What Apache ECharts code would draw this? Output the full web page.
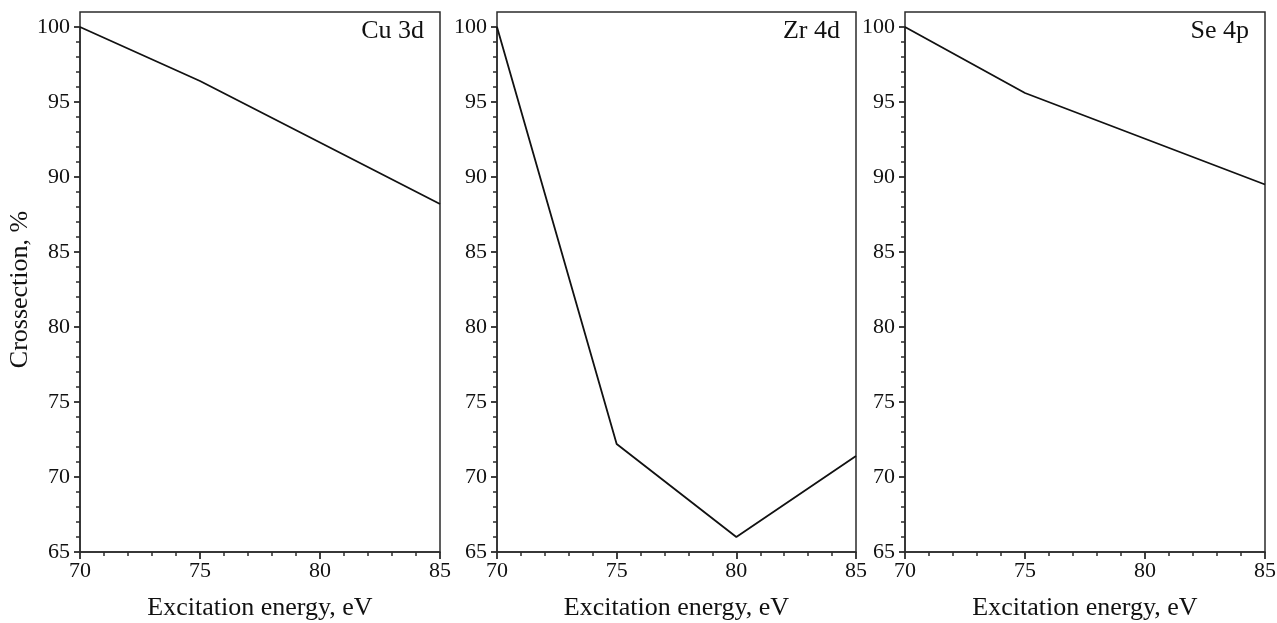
<!DOCTYPE html>
<html>
<head>
<meta charset="utf-8">
<script src="https://cdn.jsdelivr.net/npm/echarts@6/dist/echarts.min.js"></script>
<style>
html,body{margin:0;padding:0;background:#fff;}
#chart{width:1277px;height:623px;}
</style>
</head>
<body>
<div id="chart"></div>
<script>
const energies = [70, 75, 80, 85];
const cu3d = [100, 96.4, 92.3, 88.2];
const zr4d = [100, 72.2, 66.0, 71.4];
const se4p = [100, 95.6, 92.55, 89.5];
const panelNames = ['Cu 3d', 'Zr 4d', 'Se 4p'];
const xTitle = 'Excitation energy, eV';
const yTitle = 'Crossection, %';

const seriesValues = [cu3d, zr4d, se4p];
const FONT = '"Liberation Serif", "Times New Roman", serif';
const AX = '#2b2b2b';

// frame boxes (top 12) and data plotting areas (top at value 100)
const frames = [
  {left: 80, width: 360, top: 12, height: 540},
  {left: 497, width: 359, top: 12, height: 540},
  {left: 905, width: 360, top: 12, height: 540}
];
const plots = frames.map(f => ({left: f.left, width: f.width, top: 27, height: 525}));

const xAxes = plots.map((g, i) => ({
  type: 'value', gridIndex: i, min: 70, max: 85, interval: 5,
  name: xTitle, nameLocation: 'middle', nameGap: 43,
  nameTextStyle: {fontFamily: FONT, fontSize: 26, color: '#111'},
  axisLine: {show: true, lineStyle: {color: AX, width: 1.5}},
  axisTick: {show: true, inside: false, length: 7, lineStyle: {color: AX, width: 1.8}},
  minorTick: {show: true, splitNumber: 5, length: 4, lineStyle: {color: AX, width: 1.5}},
  axisLabel: {fontFamily: FONT, fontSize: 22, color: '#111', margin: 8},
  splitLine: {show: false}
}));

const yAxes = plots.map((g, i) => ({
  type: 'value', gridIndex: i, min: 65, max: 100, interval: 5,
  name: i === 0 ? yTitle : '', nameLocation: 'middle', nameGap: 46,
  nameTextStyle: {fontFamily: FONT, fontSize: 26, color: '#111'},
  axisLine: {show: true, lineStyle: {color: AX, width: 1.5}},
  axisTick: {show: true, inside: false, length: 6, lineStyle: {color: AX, width: 1.8}},
  minorTick: {show: true, splitNumber: 5, length: 4, lineStyle: {color: AX, width: 1.5}},
  axisLabel: {fontFamily: FONT, fontSize: 22, color: '#111', margin: 10},
  splitLine: {show: false}
}));

// frame-only axes (invisible) for the border grids
frames.forEach((f, i) => {
  xAxes.push({type: 'value', gridIndex: 3 + i, min: 0, max: 1, show: false});
  yAxes.push({type: 'value', gridIndex: 3 + i, min: 0, max: 1, show: false});
});

const titles = frames.map((g, i) => ({
  text: panelNames[i],
  right: 1277 - (g.left + g.width) + 16,
  top: 18, padding: 0,
  textStyle: {fontFamily: FONT, fontSize: 26, fontWeight: 'normal', color: '#111'}
}));

const series = seriesValues.map((vals, i) => ({
  type: 'line', xAxisIndex: i, yAxisIndex: i,
  data: energies.map((e, k) => [e, vals[k]]),
  symbol: 'none', lineStyle: {color: '#111', width: 1.8}, silent: true
}));

const chart = echarts.init(document.getElementById('chart'), null, {renderer: 'canvas'});
chart.setOption({
  backgroundColor: '#fff',
  animation: false,
  title: titles,
  grid: plots.map(g => Object.assign({show: false, containLabel: false, outerBoundsMode: 'none'}, g))
    .concat(frames.map(f => Object.assign({show: true, containLabel: false, outerBoundsMode: 'none', borderColor: AX, borderWidth: 1.5, backgroundColor: 'transparent'}, f))),
  xAxis: xAxes,
  yAxis: yAxes,
  series: series
});
</script>
</body>
</html>
